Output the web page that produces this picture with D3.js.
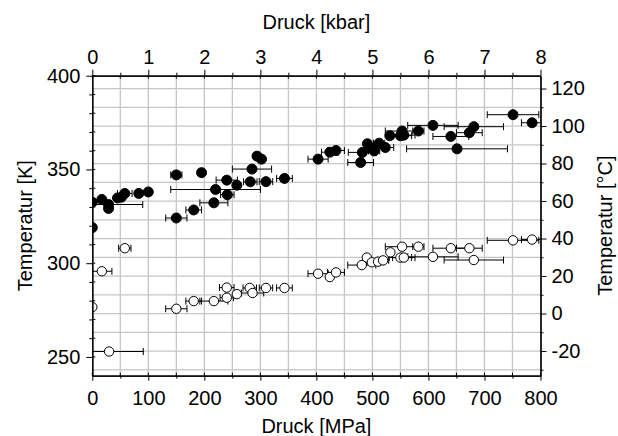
<!DOCTYPE html>
<html><head><meta charset="utf-8">
<script src="https://cdn.jsdelivr.net/npm/d3@7"></script>
<style>
body{margin:0;background:#fff}
text{font-family:"Liberation Sans",Arial,sans-serif;fill:#000}
</style></head>
<body><svg id="c" width="618" height="436"></svg>
<script>
// ---- data ----
// filled circles: pressure [MPa], temperature [K], pressure error [MPa]
const filledP   = [0, 0, 17, 29, 29, 45, 52, 58, 83, 100, 150, 150, 181, 195, 217, 220, 240, 241, 258, 282, 285, 294, 302, 310, 343, 403, 424, 435, 479, 482, 491, 501, 503, 512, 523, 531, 550, 553, 556, 582, 608, 640, 651, 673, 681, 751, 785];
const filledT   = [332.5, 319, 334, 331.3, 329.2, 334.8, 335.2, 337.2, 337.2, 338, 347.1, 324.1, 328.4, 348.3, 332.2, 339.3, 344.3, 336.5, 341.6, 343.4, 350.2, 357.1, 355.5, 343.5, 345.2, 355.5, 359.2, 360.1, 353.7, 359.1, 363.7, 361.0, 359.9, 364.0, 361.7, 368.0, 368.0, 370.5, 368.3, 370.5, 373.5, 367.6, 361.0, 369.6, 372.8, 379.2, 374.9];
const filledErr = [0, 0, 0, 61, 0, 0, 0, 13, 0, 0, 10, 19, 14, 0, 25, 80, 19, 12, 0, 12, 35, 0, 0, 12, 14, 18, 15, 15, 23, 25, 0, 10, 10, 10, 15, 0, 20, 30, 20, 10, 45, 32, 90, 23, 53, 46, 19];
// open circles
const openP   = [0, 17, 58, 30, 150, 181, 217, 240, 240, 258, 281, 286, 310, 343, 403, 424, 435, 481, 490, 499, 510, 519, 532, 550, 553, 556, 582, 608, 640, 673, 681, 751, 785];
const openT   = [276.6, 295.7, 308.0, 252.9, 275.7, 279.8, 279.8, 287.0, 281.6, 283.5, 286.8, 284.1, 286.8, 286.8, 294.4, 292.6, 295.1, 299.0, 303.0, 300.5, 300.8, 301.5, 305.8, 303.0, 308.8, 303.0, 308.8, 303.4, 308.0, 308.0, 301.7, 312.2, 312.6];
const openErr = [0, 18, 11, 61, 19, 14, 25, 13, 12, 0, 12, 20, 12, 14, 18, 0, 15, 25, 0, 10, 10, 10, 0, 20, 30, 20, 10, 45, 32, 23, 53, 46, 19];
// ticks
const mpaTicks  = [0, 100, 200, 300, 400, 500, 600, 700, 800];
const kbarTicks = [0, 1, 2, 3, 4, 5, 6, 7, 8];
const kTicks    = [250, 300, 350, 400];
const cTicks    = [-20, 0, 20, 40, 60, 80, 100, 120];

// ---- layout ----
const L = 92.3, R = 540.5, T = 75.7, B = 375.7;
const svg = d3.select("#c");
const x = d3.scaleLinear().domain([0, 800]).range([L, R]);
const xk = d3.scaleLinear().domain([0, 8]).range([L, R]);
const y = d3.scaleLinear().domain([240, 400]).range([B, T]);
const yc = d3.scaleLinear().domain([240 - 273.15, 400 - 273.15]).range([B, T]);
const fmt = d => String(d);

// gridlines
const g = svg.append("g");
g.selectAll("line.v").data(d3.range(50, 800, 50)).join("line")
  .attr("x1", d => x(d)).attr("x2", d => x(d)).attr("y1", T).attr("y2", B)
  .attr("stroke", "#c6c6c6").attr("stroke-width", 1.3);
g.selectAll("line.h").data(d3.range(-30, 121, 10)).join("line")
  .attr("y1", d => yc(d)).attr("y2", d => yc(d)).attr("x1", L).attr("x2", R)
  .attr("stroke", "#c6c6c6").attr("stroke-width", 1.3);

svg.append("clipPath").attr("id", "clip").append("rect")
  .attr("x", L).attr("y", T).attr("width", R - L).attr("height", B - T);
const plot = svg.append("g").attr("clip-path", "url(#clip)");

function drawSeries(P, Tk, E, filled) {
  const data = P.map((p, i) => ({p, t: Tk[i], e: E[i]}));
  const eb = plot.append("g").attr("stroke", "#000").attr("stroke-width", 1);
  const withErr = data.filter(d => d.e > 0);
  eb.selectAll("line.bar").data(withErr).join("line")
    .attr("x1", d => x(d.p - d.e)).attr("x2", d => x(d.p + d.e))
    .attr("y1", d => y(d.t)).attr("y2", d => y(d.t));
  eb.selectAll("line.capl").data(withErr).join("line")
    .attr("x1", d => x(d.p - d.e)).attr("x2", d => x(d.p - d.e))
    .attr("y1", d => y(d.t) - 3.5).attr("y2", d => y(d.t) + 3.5);
  eb.selectAll("line.capr").data(withErr).join("line")
    .attr("x1", d => x(d.p + d.e)).attr("x2", d => x(d.p + d.e))
    .attr("y1", d => y(d.t) - 3.5).attr("y2", d => y(d.t) + 3.5);
  plot.append("g").selectAll("circle").data(data).join("circle")
    .attr("cx", d => x(d.p)).attr("cy", d => y(d.t)).attr("r", filled ? 5 : 4.7)
    .attr("fill", filled ? "#000" : "#fff").attr("stroke", "#000").attr("stroke-width", 1);
}
drawSeries(openP, openT, openErr, false);
drawSeries(filledP, filledT, filledErr, true);

// axes
function styleAxis(sel) {
  sel.select(".domain").attr("stroke", "#000").attr("stroke-width", 1.2);
  sel.selectAll(".tick line").attr("stroke", "#000").attr("stroke-width", 1);
  sel.selectAll(".tick text").style("font-size", "20px").style("font-family", "Liberation Sans, Arial, sans-serif");
}
// bottom
const bMin = svg.append("g").attr("transform", `translate(0,${B})`)
  .call(d3.axisBottom(x).tickValues(d3.range(50, 800, 100)).tickSize(3).tickSizeOuter(0).tickFormat(""));
styleAxis(bMin);
const bAx = svg.append("g").attr("transform", `translate(0,${B})`)
  .call(d3.axisBottom(x).tickValues(mpaTicks).tickSize(5).tickSizeOuter(0).tickPadding(10).tickFormat(fmt));
styleAxis(bAx);
// top
const tMin = svg.append("g").attr("transform", `translate(0,${T})`)
  .call(d3.axisTop(xk).tickValues(d3.range(0.5, 8, 1)).tickSize(3).tickSizeOuter(0).tickFormat(""));
styleAxis(tMin);
const tAx = svg.append("g").attr("transform", `translate(0,${T})`)
  .call(d3.axisTop(xk).tickValues(kbarTicks).tickSize(6).tickSizeOuter(0).tickPadding(6).tickFormat(fmt));
styleAxis(tAx);
// left
const lMin = svg.append("g").attr("transform", `translate(${L},0)`)
  .call(d3.axisLeft(y).tickValues(d3.range(260, 400, 10).filter(v => v % 50 !== 0)).tickSize(3).tickSizeOuter(0).tickFormat(""));
styleAxis(lMin);
const lAx = svg.append("g").attr("transform", `translate(${L},0)`)
  .call(d3.axisLeft(y).tickValues(kTicks).tickSize(6).tickSizeOuter(0).tickPadding(6).tickFormat(fmt));
styleAxis(lAx);
// right
const rMin = svg.append("g").attr("transform", `translate(${R},0)`)
  .call(d3.axisRight(yc).tickValues(d3.range(-30, 121, 20)).tickSize(3).tickSizeOuter(0).tickFormat(""));
styleAxis(rMin);
const rAx = svg.append("g").attr("transform", `translate(${R},0)`)
  .call(d3.axisRight(yc).tickValues(cTicks).tickSize(6).tickSizeOuter(0).tickPadding(5).tickFormat(fmt));
styleAxis(rAx);
// inward tick stubs (ticks cross the axes)
svg.append("g").selectAll("line").data(d3.range(0, 801, 50)).join("line")
  .attr("x1", d => x(d)).attr("x2", d => x(d)).attr("y1", B).attr("y2", B - 3)
  .attr("stroke", "#000");
svg.append("g").selectAll("line").data(d3.range(0, 801, 50)).join("line")
  .attr("x1", d => x(d)).attr("x2", d => x(d)).attr("y1", T).attr("y2", T + 3)
  .attr("stroke", "#000");
svg.append("g").selectAll("line").data(d3.range(250, 401, 10)).join("line")
  .attr("x1", L).attr("x2", L + 3).attr("y1", d => y(d)).attr("y2", d => y(d))
  .attr("stroke", "#000");

// axis titles
svg.append("text").attr("x", (L + R) / 2).attr("y", 29).attr("text-anchor", "middle")
  .style("font-size", "20px").text("Druck [kbar]");
svg.append("text").attr("x", (L + R) / 2).attr("y", 433).attr("text-anchor", "middle")
  .style("font-size", "20px").text("Druck [MPa]");
svg.append("text").attr("transform", `translate(32,${(T + B) / 2}) rotate(-90)`).attr("text-anchor", "middle")
  .style("font-size", "20px").text("Temperatur [K]");
svg.append("text").attr("transform", `translate(612,${(T + B) / 2}) rotate(-90)`).attr("text-anchor", "middle")
  .style("font-size", "20px").text("Temperatur [°C]");
</script></body></html>
